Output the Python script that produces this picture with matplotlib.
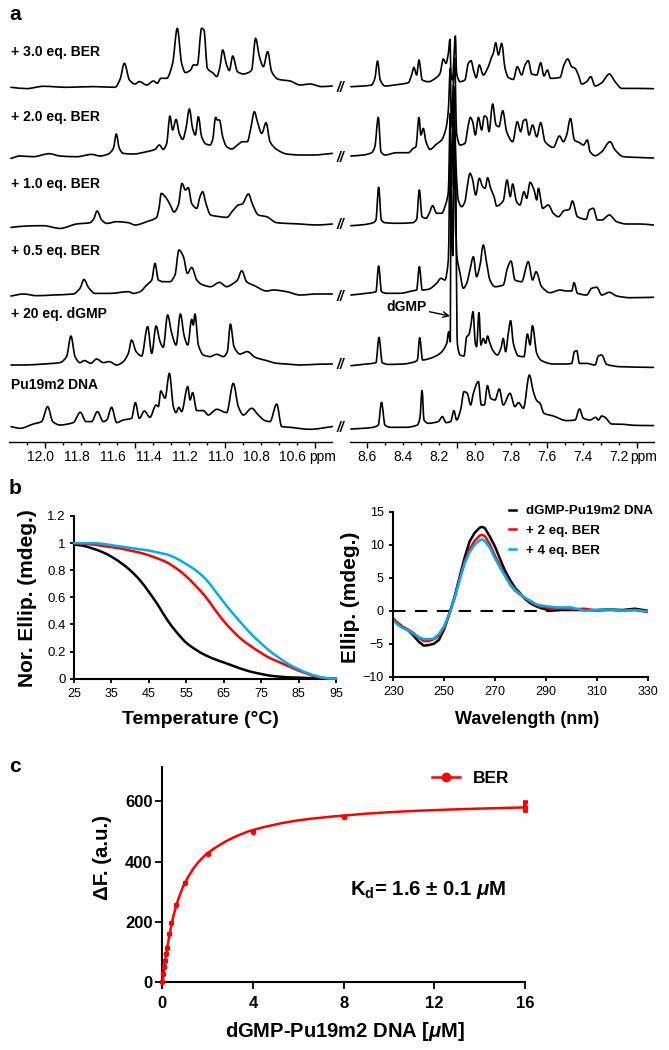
import matplotlib
matplotlib.use("Agg")
import matplotlib.pyplot as plt
from matplotlib.patches import PathPatch
from matplotlib.path import Path
import numpy as np

plt.rcParams['font.family'] = ['Liberation Sans', 'DejaVu Sans']
plt.rcParams['mathtext.fontset'] = 'custom'
plt.rcParams['mathtext.rm'] = 'Liberation Sans:bold'
plt.rcParams['mathtext.it'] = 'Liberation Sans:italic:bold'
plt.rcParams['mathtext.bf'] = 'Liberation Sans:bold'

W, H = 669, 1050

# panel a, imino region: shift (ppm) and height above each trace's baseline
im30_x = [12.189,12.102,12.009,11.880,11.731,11.611,11.583,11.559,11.531,11.500,11.476,11.435,11.398,11.376,11.357,11.324,11.291,11.265,11.241,11.220,11.191,11.176,11.154,11.130,11.117,11.098,11.065,11.046,11.028,11.013,10.991,10.976,10.957,10.931,10.898,10.870,10.852,10.830,10.809,10.787,10.763,10.741,10.704,10.639,10.583,10.528,10.463,10.404]
im30_y = [0,-1.3,1,0,.7,0,8,24,7.3,3.3,5.7,2.3,6.3,4,9,9,24,59,24,14.7,17.3,22.3,22.3,59,57.3,19,14,10.7,20.7,37.3,22.3,16.7,31.3,15.7,13.3,14.7,17.3,49,30.7,20.7,35.7,15.7,8,6.3,2.3,3.3,.7,1.3]
im20_x = [12.189,12.139,12.065,11.976,11.917,11.824,11.741,11.694,11.648,11.620,11.604,11.587,11.565,11.509,11.435,11.389,11.365,11.343,11.324,11.306,11.291,11.272,11.254,11.235,11.217,11.198,11.180,11.165,11.148,11.130,11.106,11.083,11.069,11.052,11.043,11.031,11.013,10.991,10.963,10.931,10.902,10.876,10.857,10.837,10.820,10.796,10.772,10.750,10.713,10.657,10.583,10.509,10.404]
im20_y = [-1.7,.7,0,3,.7,0,2.3,.7,2.7,8.3,22.7,8.3,3.3,2.7,5,7.3,11.7,7.3,13.3,40.7,26.7,37.3,23.3,17.3,28.3,47.7,28.3,21.7,40,20,12.7,11.7,16.7,39.3,36.7,36.7,20,10,7.7,11.7,15,15,28.3,45,35,23.3,34,15,7.3,2.7,1.7,1.7,3.3]
im10_x = [12.189,12.102,12.009,11.917,11.824,11.750,11.728,11.711,11.685,11.657,11.602,11.537,11.500,11.435,11.380,11.367,11.354,11.328,11.306,11.283,11.259,11.239,11.220,11.204,11.185,11.157,11.139,11.124,11.106,11.080,11.028,10.991,10.954,10.926,10.904,10.870,10.846,10.815,10.769,10.713,10.657,10.583,10.491,10.404]
im10_y = [-.7,.7,1,-1.7,2.7,4,8.3,15.7,6.7,3.3,5,4,1.7,5,9.3,18.3,33.3,29,22.3,14.7,21.7,43.3,36.7,39,23.3,18.3,30,35,23.3,11.7,10,9.3,16.7,21.7,22.7,32.7,21.7,11.7,10,4,3.3,2.7,1.7,2.7]
im05_x = [12.189,12.120,12.046,11.954,11.843,11.806,11.783,11.759,11.722,11.639,11.537,11.509,11.472,11.435,11.407,11.389,11.370,11.343,11.306,11.278,11.256,11.231,11.209,11.185,11.157,11.130,11.080,11.031,10.991,10.954,10.931,10.907,10.880,10.833,10.769,10.731,10.657,10.583,10.491,10.404]
im05_y = [-.3,1.7,0,.7,1.7,7.3,16.3,8.3,2.3,2.3,4,2.3,4,10.7,15.7,32.3,15.7,14,14,20.7,45.7,39,22.3,28.3,15.7,11.3,9,13.3,9,12.3,15.7,25,14,9.7,4.7,5.7,4,.7,1.7,1.7]
imgmp_x = [12.189,12.120,12.009,11.917,11.880,11.856,11.833,11.806,11.781,11.746,11.713,11.676,11.643,11.602,11.565,11.537,11.519,11.494,11.463,11.430,11.407,11.383,11.361,11.343,11.319,11.296,11.272,11.248,11.226,11.207,11.185,11.176,11.167,11.148,11.120,11.083,11.046,11.009,10.987,10.970,10.950,10.917,10.876,10.833,10.769,10.713,10.657,10.583,10.491,10.404]
imgmp_y = [-.7,-.7,.3,1.7,7.7,28.3,7.7,1.7,3.7,1,5.3,1.7,2.7,-.7,2.7,11,24.3,12.7,8.3,37.7,11,38.3,22.7,17,49.3,31,19.3,50.3,27.7,19.3,45,39.3,50.3,19.3,9.3,7.7,10,7.7,12.7,40.3,17.7,10.3,12.7,7,3.7,1,.3,-.7,0,.3]
impu_x = [12.189,12.139,12.065,12.019,11.985,11.957,11.917,11.843,11.804,11.772,11.741,11.709,11.676,11.657,11.630,11.602,11.565,11.519,11.498,11.476,11.448,11.417,11.383,11.370,11.357,11.333,11.309,11.287,11.272,11.257,11.241,11.207,11.194,11.180,11.157,11.120,11.093,11.046,10.991,10.954,10.926,10.898,10.852,10.815,10.778,10.750,10.713,10.685,10.639,10.528,10.404]
impu_y = [.7,-1,3.3,5.7,20.7,5.7,2.3,4.7,15,5.7,5.7,15.7,5.7,7.3,20,4.7,7.3,9,24.7,9,16.3,10,22.3,20.7,36.3,29,54,20.7,14.7,20,15.7,40.7,27.3,34.7,16.7,16.7,12.3,18,14.7,44,20.7,12.3,19,12.3,6.7,5.7,23.3,.7,0,-2,.7]

# panel a, aromatic region
ar30_x = [8.689,8.620,8.574,8.556,8.541,8.526,8.500,8.435,8.370,8.352,8.339,8.324,8.311,8.293,8.259,8.213,8.194,8.176,8.161,8.148,8.139,8.133,8.124,8.117,8.109,8.102,8.083,8.056,8.037,8.022,8.006,7.993,7.976,7.954,7.926,7.907,7.898,7.885,7.870,7.852,7.833,7.815,7.787,7.765,7.741,7.722,7.704,7.685,7.657,7.635,7.617,7.598,7.580,7.528,7.506,7.485,7.463,7.444,7.426,7.407,7.380,7.357,7.333,7.296,7.254,7.222,7.185,7.102,7.009]
ar30_y = [0,.7,1.7,8.3,25.7,6.7,.7,2,4,11.7,19.3,11.7,26.7,6.7,5,9.3,13.3,27.7,23.3,33.3,47.3,11.7,6.7,30,50.7,13.3,5,6.7,23.3,26,15,9,21.7,11.7,20,30,33.3,44,31.7,43.3,18.3,9.3,7.3,20,11.7,21.7,26,12.7,11.7,24,10.7,16.7,8.3,9.3,21.7,27.7,20,18.3,11.7,2.7,5,10,.7,4,12.7,5,-1.7,-1.7,-2]
ar20_x = [8.689,8.620,8.574,8.556,8.537,8.522,8.500,8.435,8.370,8.343,8.328,8.311,8.300,8.287,8.272,8.250,8.213,8.185,8.161,8.148,8.137,8.131,8.124,8.113,8.102,8.083,8.056,8.037,8.026,8.013,7.998,7.981,7.963,7.948,7.935,7.922,7.902,7.883,7.867,7.846,7.824,7.791,7.765,7.746,7.731,7.717,7.700,7.680,7.657,7.635,7.611,7.565,7.531,7.509,7.491,7.470,7.448,7.420,7.398,7.376,7.361,7.333,7.296,7.250,7.222,7.176,7.102,7.009]
ar20_y = [.7,1.7,4,10,39.3,5,1.7,4,4,8.3,10,39.3,21.7,28.3,15,7.3,12.7,16.7,28.3,46.7,88.3,30,56.7,98.3,23.3,11.7,13.3,31.7,39.3,35,21.7,39.3,26.7,40.7,39.3,25,52.7,31.7,30,46,25,15,35,25,36,37.3,21.7,31.7,20,34,15,9.3,20.7,15,21.7,38.3,16.7,14,11.7,16.7,5,1,5,15,6.7,0,-.7,-1.3]
ar10_x = [8.689,8.620,8.565,8.550,8.535,8.520,8.500,8.435,8.346,8.324,8.309,8.294,8.272,8.254,8.235,8.213,8.185,8.161,8.148,8.137,8.131,8.124,8.119,8.107,8.093,8.074,8.056,8.043,8.028,8.015,7.996,7.976,7.957,7.944,7.930,7.913,7.894,7.880,7.843,7.822,7.804,7.791,7.769,7.750,7.728,7.713,7.694,7.672,7.657,7.648,7.624,7.593,7.565,7.537,7.506,7.476,7.459,7.431,7.383,7.365,7.343,7.320,7.296,7.254,7.213,7.157,7.083,7.009]
ar10_y = [-.7,.3,2.3,5,37.7,5,2.3,1.7,2.3,5.7,35,8.3,6.7,11.7,19.3,11.7,11.7,21.7,33.3,111.7,38.3,85,139,65,25,18.3,23.3,38.3,51.7,46.7,30,46.7,38.3,36.7,47.3,36.7,28.3,19,24.3,45,28.3,41,23.3,20,33.3,26.7,42.7,35,25,36.7,16.7,20,11.7,8.3,14.3,15.7,24,8.3,5.7,15,16.7,5,5,10,3.3,1,1,0]
ar05_x = [8.689,8.602,8.550,8.535,8.519,8.491,8.417,8.343,8.324,8.309,8.293,8.259,8.213,8.189,8.167,8.148,8.137,8.130,8.122,8.115,8.102,8.083,8.065,8.046,8.028,8.009,7.991,7.972,7.954,7.935,7.917,7.889,7.843,7.820,7.800,7.778,7.741,7.704,7.680,7.661,7.630,7.583,7.528,7.491,7.463,7.450,7.431,7.380,7.352,7.324,7.296,7.254,7.213,7.139,7.009]
ar05_y = [0,1.7,3.3,29,3.3,1.7,1.7,4.3,5,28.3,5,5.7,11.7,16.7,15,35,150,60,50,175,41.7,21.7,6.7,11.7,25,38.3,18.3,30,50,31.7,15,8.3,10,26.7,34,15,13.3,33.3,15,23.3,8.3,2.3,5,4,4,12.3,1.7,0,6.7,7.7,0,2.7,-1,-2.7,-2.3]
argmp_x = [8.689,8.602,8.550,8.533,8.515,8.481,8.398,8.333,8.320,8.307,8.291,8.250,8.194,8.157,8.146,8.137,8.133,8.124,8.111,8.098,8.083,8.061,8.046,8.035,8.024,8.011,7.998,7.991,7.978,7.967,7.954,7.941,7.930,7.920,7.902,7.876,7.856,7.843,7.830,7.815,7.802,7.787,7.759,7.728,7.709,7.694,7.681,7.657,7.630,7.565,7.491,7.463,7.448,7.435,7.420,7.380,7.333,7.315,7.296,7.269,7.194,7.009]
argmp_y = [0,1.7,3,28.3,3,1.3,1.7,4,5.7,28,5.7,7.3,12.3,22.3,34,24,200,110,235,22.3,10.7,9.7,29,30.7,39,54,22.3,19,53,20.7,27.3,22.3,29.7,24,15.7,10.7,17.3,27.3,14,32.3,45,22.3,9.7,9,31.7,20.7,40,12.3,5,1.7,1.7,2.3,14,15,2.3,2.3,.7,9.7,10.7,1.3,-1,-1.7]
arpu_x = [8.689,8.620,8.565,8.537,8.519,8.500,8.472,8.380,8.320,8.306,8.294,8.283,8.259,8.204,8.181,8.161,8.135,8.117,8.102,8.080,8.061,8.043,8.024,8.009,7.981,7.965,7.948,7.931,7.913,7.889,7.865,7.843,7.806,7.778,7.759,7.731,7.698,7.676,7.657,7.639,7.617,7.565,7.491,7.444,7.420,7.398,7.361,7.330,7.315,7.296,7.278,7.241,7.176,7.120,7.009]
arpu_y = [-.7,0,1,3.3,26,3.3,1,1,3.3,10,37.7,8.3,5,6.7,11.7,5.7,6.7,17.7,8.3,18.3,36.7,35,23.3,35,46.7,23.3,23.3,42.7,30,28.3,39.3,23.3,35,21.7,25.7,20,53.3,36.7,27.7,25,15,12.3,7.7,8.3,19.3,10,8.3,11,8.3,12.3,11,4.3,4,3,2.7]

trace_labels = ['+ 3.0 eq. BER', '+ 2.0 eq. BER', '+ 1.0 eq. BER', '+ 0.5 eq. BER', '+ 20 eq. dGMP', 'Pu19m2 DNA']
im_ticklabels = ['12.0', '11.8', '11.6', '11.4', '11.2', '11.0', '10.8', '10.6']
ar_ticklabels = ['8.6', '8.4', '8.2', '8.0', '7.8', '7.6', '7.4', '7.2']

# panel b, melting curves
temp = [25,27.5,30,32.5,35,37.5,40,42.5,45,47.5,50,52.5,55,57.5,60,62.5,65,67.5,70,72.5,75,77.5,80,82.5,85,87.5,90,92.5,95]
melt_dna = [.99,.98,.96,.935,.90,.855,.80,.73,.64,.54,.43,.34,.265,.215,.175,.145,.12,.095,.07,.05,.035,.022,.015,.01,.008,.005,.003,.001,0]
melt_2eq = [1,.995,.99,.98,.97,.96,.945,.93,.91,.885,.855,.81,.755,.685,.61,.515,.425,.35,.285,.235,.19,.15,.12,.09,.06,.035,.012,.003,0]
melt_4eq = [1,1,1,.995,.985,.975,.965,.955,.945,.93,.915,.885,.845,.80,.74,.655,.565,.48,.40,.325,.26,.20,.15,.105,.07,.04,.018,.005,0]

# panel b, CD spectra
wave = [230,232,234,236,238,240,242,244,246,248,250,252,254,256,258,260,262,264,265,266,268,270,272,274,276,278,280,282,284,286,288,290,292,294,296,298,300,305,310,315,320,325,330]
cd_dna = [-1.3,-2,-2.6,-3,-3.8,-4.7,-5.3,-5.2,-5,-4.4,-2.8,-.5,2,5,8,10.5,11.8,12.6,12.7,12.5,11.2,9.7,7.8,6,4.6,3.4,2.6,1.7,1.1,.7,.4,.2,0,.05,.1,.1,.1,.1,.1,.2,.1,.3,0]
cd_2eq = [-1.2,-1.9,-2.5,-2.9,-3.4,-4.1,-4.6,-4.6,-4.3,-3.8,-2.6,-.5,1.8,4.7,7.4,9.3,10.6,11.4,11.5,11.3,10,8.3,6.8,5.3,3.9,3,2.4,1.8,1.3,.9,.6,.5,.4,.3,.35,.3,.2,.3,0,.1,0,.1,-.2]
cd_4eq = [-1.5,-2.2,-2.7,-3,-3.5,-4,-4.3,-4.3,-4.2,-3.5,-2.3,-.5,1.8,4.5,7.1,8.9,10,10.7,10.8,10.5,9.5,7.9,6.5,5.2,4,3.1,2.5,1.9,1.5,1,.8,.7,.6,.5,.5,.5,.5,0,.1,.2,0,.1,-.1]

# panel c, titration
conc = [0,.05,.08,.12,.16,.2,.3,.4,.59,1,2,4,8,16]
df = [0,28,50,72,93,113,159,196,256,330,426,500,548,582]
df_err = [0,0,0,0,0,0,0,0,0,0,0,0,0,15]
fit_conc = [0,.05,.1,.2,.3,.4,.6,.8,1,1.5,2,3,4,6,8,10,12,14,16]
fit_df = [0,30,58,108,150,190,250,295,330,390,428,475,505,537,553,564,571,576,580]


def axes_px(fig, left, top, right, bottom):
    return fig.add_axes([left/W, 1-bottom/H, (right-left)/W, (bottom-top)/H])


def curve(ax, x, y, color='k', lw=1.2, zorder=2):
    # the source traces are rounded, so join the read points with flat-topped beziers
    x = np.asarray(x, dtype=float)
    y = np.asarray(y, dtype=float)
    dx = np.diff(x)
    d = np.diff(y)/dx
    m = np.zeros(len(x))
    m[0], m[-1] = d[0], d[-1]
    for i in range(1, len(x)-1):
        if d[i-1]*d[i] > 0:
            m[i] = 2*d[i-1]*d[i]/(d[i-1]+d[i])
    verts = [(x[0], y[0])]
    codes = [Path.MOVETO]
    for i in range(len(dx)):
        verts += [(x[i]+dx[i]/3, y[i]+m[i]*dx[i]/3),
                  (x[i+1]-dx[i]/3, y[i+1]-m[i+1]*dx[i]/3),
                  (x[i+1], y[i+1])]
        codes += [Path.CURVE4]*3
    ax.add_patch(PathPatch(Path(verts, codes), fc='none', ec=color, lw=lw,
                           joinstyle='round', capstyle='round', clip_on=False, zorder=zorder))


def label_at(ax, fig, which, text, x, y, size):
    # labels sit where the figure has them, not where matplotlib would put them
    if which == 'x':
        ax.set_xlabel(text, fontsize=size, fontweight='bold', va='center')
        ax.xaxis.set_label_coords(x/W, 1-y/H, transform=fig.transFigure)
    else:
        ax.set_ylabel(text, fontsize=size, fontweight='bold', va='center')
        ax.yaxis.set_label_coords(x/W, 1-y/H, transform=fig.transFigure)


def nmr_axes(fig, left, right, xlim, major, minor, ticklabels, shift, ppm_pos):
    ax = axes_px(fig, left, 0, right, 442)
    ax.patch.set_alpha(0)
    ax.set_xlim(*xlim)
    ax.set_ylim(0, 442)
    for s in ['top', 'left', 'right']:
        ax.spines[s].set_visible(False)
    ax.spines['bottom'].set_linewidth(1.0)
    ax.set_yticks([])
    ax.set_xticks(major)
    ax.set_xticks(minor, minor=True)
    ax.set_xticklabels([])
    ax.tick_params(axis='x', which='major', length=4, width=1.0)
    ax.tick_params(axis='x', which='minor', length=2, width=1.0)
    for lab in ticklabels:
        ax.text(float(lab)+shift, -15, lab, fontsize=10, ha='center', va='center')
    ax.text(ppm_pos, -15, 'ppm', fontsize=10, ha='center', va='center')
    return ax


def draw_traces(ax, xs, ys, baselines):
    for x, y, base in zip(xs, ys, baselines):
        curve(ax, x, np.array(y)+442-base, lw=1.2)


def panel_a(fig):
    left = nmr_axes(fig, 9, 332.3, (12.2, 10.404), [12.0, 11.5, 11.0, 10.5],
                    np.arange(10.5, 12.2, 0.1), im_ticklabels, 0.025, 10.457)
    right = nmr_axes(fig, 350, 654, (8.694, 7.006), [8.6, 8.1, 7.6, 7.1],
                     np.arange(7.1, 8.7, 0.1), ar_ticklabels, 0.0, 7.065)
    draw_traces(left, [im30_x, im20_x, im10_x, im05_x, imgmp_x, impu_x],
                [im30_y, im20_y, im10_y, im05_y, imgmp_y, impu_y],
                [87.3, 156.7, 226.7, 295.7, 364.3, 427.3])
    draw_traces(right, [ar30_x, ar20_x, ar10_x, ar05_x, argmp_x, arpu_x],
                [ar30_y, ar20_y, ar10_y, ar05_y, argmp_y, arpu_y],
                [86.7, 156.7, 225, 295, 365.7, 428.3])
    for lab, y in zip(trace_labels, [52, 117, 184, 251, 314, 385]):
        fig.text(11/W, 1-y/H, lab, fontsize=10, fontweight='bold', va='center')
    for y in [88, 158, 225, 297, 365, 428]:
        fig.text(340/W, 1-y/H, '//', fontsize=10, fontweight='bold', style='italic', ha='center', va='center')
    right.annotate('dGMP', xy=(8.139, 126), xytext=(8.38, 135), fontsize=10, fontweight='bold',
                   ha='center', va='center', arrowprops=dict(arrowstyle='->', lw=1.0, color='k', shrinkA=0, shrinkB=0))


def panel_b(fig):
    ax = axes_px(fig, 74, 516, 336, 678.7)
    curve(ax, temp, melt_dna, 'k', 1.8)
    curve(ax, temp, melt_2eq, '#ff0000', 1.8, 3)
    curve(ax, temp, melt_4eq, '#00aeef', 1.8, 4)
    ax.set_xlim(25, 95)
    ax.set_ylim(0, 1.2)
    ax.set_xticks(np.arange(25, 96, 10))
    ax.set_yticks([0, .2, .4, .6, .8, 1, 1.2])
    ax.set_yticklabels(['0', '0.2', '0.4', '0.6', '0.8', '1', '1.2'])
    ax.tick_params(axis='x', labelsize=9, length=3, width=1.3, pad=4)
    ax.tick_params(axis='y', labelsize=9.5, length=3, width=1.3, pad=3)
    label_at(ax, fig, 'x', 'Temperature (°C)', 200, 719, 14)
    label_at(ax, fig, 'y', 'Nor. Ellip. (mdeg.)', 28, 598, 15)

    ax = axes_px(fig, 393.3, 511.7, 647.7, 676.7)
    ax.plot([230, 292], [0, 0], color='k', lw=1.5, dashes=(6, 4.5))
    ax.plot(wave, cd_dna, color='k', lw=1.8, label='dGMP-Pu19m2 DNA')
    ax.plot(wave, cd_2eq, color='#ff0000', lw=1.8, label='+ 2 eq. BER')
    ax.plot(wave, cd_4eq, color='#00aeef', lw=1.8, label='+ 4 eq. BER')
    ax.set_xlim(230, 330)
    ax.set_ylim(-10, 15)
    ax.set_xticks(np.arange(230, 331, 20))
    ax.set_yticks(np.arange(-10, 16, 5))
    ax.tick_params(axis='both', labelsize=9, length=3, width=1.3, pad=4)
    label_at(ax, fig, 'x', 'Wavelength (nm)', 527, 719, 13)
    label_at(ax, fig, 'y', 'Ellip. (mdeg.)', 350, 597, 15)
    ax.legend(loc='upper left', bbox_to_anchor=(509/W, 1-505/H), bbox_transform=fig.transFigure,
              frameon=False, prop=dict(size=9.6, weight='bold'), handlelength=0.55,
              handletextpad=0.7, labelspacing=0.55, borderpad=0, borderaxespad=0)
    for a in fig.axes[-2:]:
        a.spines['top'].set_visible(False)
        a.spines['right'].set_visible(False)
        a.spines['left'].set_linewidth(1.5)
        a.spines['bottom'].set_linewidth(1.5)


def panel_c(fig):
    ax = axes_px(fig, 162.3, 766.7, 525, 982.3)
    curve(ax, fit_conc, fit_df, '#ff0000', 1.8, 3)
    ax.errorbar(conc, df, yerr=df_err, fmt='o', ms=3, color='#ff0000', elinewidth=3,
                capsize=1.8, capthick=2.6, clip_on=False, zorder=3)
    ax.plot([], [], '-o', color='#ff0000', lw=1.8, ms=6, label='BER')
    ax.set_xlim(0, 16)
    ax.set_ylim(0, 715)
    ax.set_xticks([0, 4, 8, 12, 16])
    ax.set_yticks([0, 200, 400, 600])
    for lab in ax.get_xticklabels()+ax.get_yticklabels():
        lab.set_fontweight('bold')
    ax.tick_params(axis='x', labelsize=12, length=5, width=1.3, pad=5)
    ax.tick_params(axis='y', labelsize=12, length=5, width=1.3, pad=2)
    for s in ['top', 'right']:
        ax.spines[s].set_visible(False)
    ax.spines['left'].set_linewidth(1.5)
    ax.spines['bottom'].set_linewidth(1.5)
    label_at(ax, fig, 'x', 'dGMP-Pu19m2 DNA [$\\mu$M]', 344.7, 1031.7, 14.5)
    label_at(ax, fig, 'y', 'ΔF. (a.u.)', 102, 858, 14.7)
    ax.legend(loc='center left', bbox_to_anchor=(432/W, 1-778/H), bbox_transform=fig.transFigure,
              frameon=False, prop=dict(size=12.5, weight='bold'), handlelength=1.6,
              handletextpad=0.75, borderpad=0, borderaxespad=0)
    fig.text(428/W, 1-890/H, 'K$_{\\mathrm{d}}$= 1.6 ± 0.1 $\\mu$M', fontsize=14.7, fontweight='bold', ha='center', va='center')


def main():
    fig = plt.figure(figsize=(W/100, H/100), dpi=100)
    panel_a(fig)
    panel_b(fig)
    panel_c(fig)
    for let, x, y in [('a', 15, 15), ('b', 15, 488), ('c', 15, 767)]:
        fig.text(x/W, 1-y/H, let, fontsize=15, fontweight='bold', ha='center', va='center')
    fig.savefig('out.png', dpi=100)


if __name__ == "__main__":
    main()
